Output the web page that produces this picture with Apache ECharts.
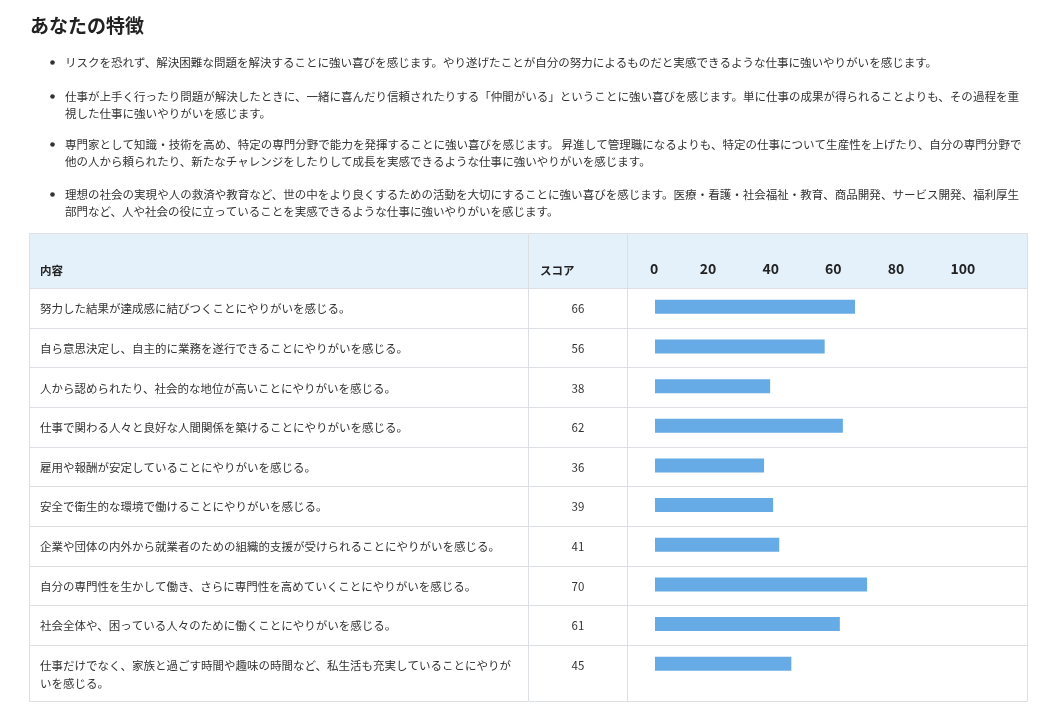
<!DOCTYPE html>
<html>
<head>
<meta charset="utf-8">
<script src="https://cdn.jsdelivr.net/npm/echarts@6/dist/echarts.min.js"></script>
<style>
  html, body { margin: 0; padding: 0; background: #fff; }
  #main { width: 1057px; height: 728px; }
</style>
</head>
<body>
<div id="main"></div>
<script>
// データ
const pageTitle = 'あなたの特徴';
const features = [
  ['リスクを恐れず、解決困難な問題を解決することに強い喜びを感じます。やり遂げたことが自分の努力によるものだと実感できるような仕事に強いやりがいを感じます。'],
  ['仕事が上手く行ったり問題が解決したときに、一緒に喜んだり信頼されたりする「仲間がいる」ということに強い喜びを感じます。単に仕事の成果が得られることよりも、その過程を重',
   '視した仕事に強いやりがいを感じます。'],
  ['専門家として知識・技術を高め、特定の専門分野で能力を発揮することに強い喜びを感じます。 昇進して管理職になるよりも、特定の仕事について生産性を上げたり、自分の専門分野で',
   '他の人から頼られたり、新たなチャレンジをしたりして成長を実感できるような仕事に強いやりがいを感じます。'],
  ['理想の社会の実現や人の救済や教育など、世の中をより良くするための活動を大切にすることに強い喜びを感じます。医療・看護・社会福祉・教育、商品開発、サービス開発、福利厚生',
   '部門など、人や社会の役に立っていることを実感できるような仕事に強いやりがいを感じます。']
];
const headers = ['内容', 'スコア'];
const items = [
  '努力した結果が達成感に結びつくことにやりがいを感じる。',
  '自ら意思決定し、自主的に業務を遂行できることにやりがいを感じる。',
  '人から認められたり、社会的な地位が高いことにやりがいを感じる。',
  '仕事で関わる人々と良好な人間関係を築けることにやりがいを感じる。',
  '雇用や報酬が安定していることにやりがいを感じる。',
  '安全で衛生的な環境で働けることにやりがいを感じる。',
  '企業や団体の内外から就業者のための組織的支援が受けられることにやりがいを感じる。',
  '自分の専門性を生かして働き、さらに専門性を高めていくことにやりがいを感じる。',
  '社会全体や、困っている人々のために働くことにやりがいを感じる。',
  '仕事だけでなく、家族と過ごす時間や趣味の時間など、私生活も充実していることにやりが\nいを感じる。'
];
const scores = [66, 56, 38, 62, 36, 39, 41, 70, 61, 45];
const tickLabels = ['0', '20', '40', '60', '80', '100'];

const FONT = '"Noto Sans CJK JP", "Noto Sans", sans-serif';
const TXT = '#333';
const LINE = '#dcdfe4';

// テーブルの寸法
const tLeft = 30, tRight = 1027, tTop = 234, headBottom = 288;
const col1 = 528, col2 = 627;
const rowH = 39.65, lastBottom = 701;

const g = [];

// タイトル
g.push({
  type: 'text', left: 30, top: 16,
  style: { text: pageTitle, font: 'bold 19px ' + FONT, fill: '#222' }
});

// 箇条書き
const bulletY = [62, 96, 144, 194];
features.forEach((lines, i) => {
  g.push({ type: 'circle', shape: { cx: 52.5, cy: bulletY[i] + 0.5, r: 2.3 }, style: { fill: TXT } });
  lines.forEach((ln, j) => {
    g.push({
      type: 'text', x: 65, y: bulletY[i] + 1 + j * 16.5,
      style: { text: ln, font: '11.53px ' + FONT, fill: TXT, verticalAlign: 'middle' }
    });
  });
});

// ヘッダー背景
g.push({
  type: 'rect', shape: { x: tLeft, y: tTop, width: tRight - tLeft, height: headBottom - tTop },
  style: { fill: '#e4f1fb' }
});

// 行の罫線
const rowTops = items.map((_, i) => headBottom + i * rowH);
rowTops.forEach(y => {
  g.push({ type: 'line', shape: { x1: tLeft, y1: Math.round(y) + 0.5, x2: tRight, y2: Math.round(y) + 0.5 },
    style: { stroke: LINE, lineWidth: 1 } });
});
[col1, col2].forEach(x => {
  g.push({ type: 'line', shape: { x1: x + 0.5, y1: tTop, x2: x + 0.5, y2: lastBottom },
    style: { stroke: LINE, lineWidth: 1 } });
});
g.push({
  type: 'rect', shape: { x: tLeft - 0.5, y: tTop - 0.5, width: tRight - tLeft + 1, height: lastBottom - tTop + 1 },
  style: { fill: null, stroke: LINE, lineWidth: 1 }
});

// ヘッダー文字
g.push({ type: 'text', x: 40, y: 271, style: { text: headers[0], font: 'bold 11.5px ' + FONT, fill: '#222', verticalAlign: 'middle' } });
g.push({ type: 'text', x: 540, y: 271, style: { text: headers[1], font: 'bold 11.5px ' + FONT, fill: '#222', verticalAlign: 'middle' } });
tickLabels.forEach((t, i) => {
  const x = i === 0 ? 650 : 637 + i * 62.7;
  g.push({ type: 'text', x: x, y: 268.5, style: { text: t, font: 'bold 14px ' + FONT, fill: '#222', verticalAlign: 'middle' } });
});

// 行の文字
items.forEach((t, i) => {
  const cy = rowTops[i] + rowH / 2 + 1;
  const multi = t.indexOf('\n') >= 0;
  g.push({
    type: 'text', x: 40, y: multi ? cy - 9 : cy,
    style: { text: t, font: '11.5px ' + FONT, fill: TXT, lineHeight: 18,
      verticalAlign: multi ? 'top' : 'middle' }
  });
  g.push({
    type: 'text', x: 578, y: cy,
    style: { text: String(scores[i]), font: '11.5px ' + FONT, fill: TXT, align: 'center', verticalAlign: 'middle' }
  });
});

const chart = echarts.init(document.getElementById('main'));
chart.setOption({
  backgroundColor: '#fff',
  animation: false,
  grid: { left: 655, width: 303, top: headBottom - 1, height: rowH * items.length },
  xAxis: { type: 'value', min: 0, max: 100, show: false },
  yAxis: { type: 'category', data: items, inverse: true, show: false },
  series: [{
    type: 'bar', data: scores, barWidth: 14, silent: true,
    itemStyle: { color: '#66abe5' }
  }],
  graphic: g
});
</script>
</body>
</html>
